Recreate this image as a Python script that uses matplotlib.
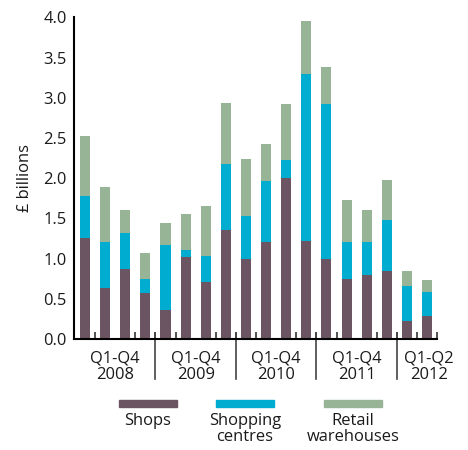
import matplotlib
matplotlib.use('Agg')
import matplotlib.pyplot as plt
import numpy as np

# quarterly investment, £ billions, Q1 2008 - Q2 2012
shops = [1.26, 0.64, 0.87, 0.57, 0.36, 1.02, 0.71, 1.36, 1.00,
         1.20, 2.00, 1.22, 1.00, 0.74, 0.79, 0.85, 0.22, 0.29]
shopping_centres = [0.52, 0.56, 0.45, 0.18, 0.81, 0.09, 0.32, 0.81, 0.53,
                    0.77, 0.23, 2.08, 1.92, 0.46, 0.42, 0.63, 0.44, 0.30]
retail_warehouses = [0.74, 0.69, 0.29, 0.32, 0.27, 0.45, 0.62, 0.77, 0.71,
                     0.45, 0.69, 0.65, 0.46, 0.53, 0.39, 0.50, 0.19, 0.14]

group_labels = ['Q1-Q4\n2008', 'Q1-Q4\n2009', 'Q1-Q4\n2010', 'Q1-Q4\n2011', 'Q1-Q2\n2012']
group_sizes = [4, 4, 4, 4, 2]

series_names = ['Shops', 'Shopping\ncentres', 'Retail\nwarehouses']
colours = ['#6b5562', '#00acd0', '#97b497']

plt.rcParams['font.family'] = ['Open Sans', 'DejaVu Sans']
fs = 11.9

fig = plt.figure(figsize=(4.68, 4.5), dpi=100)
ax = fig.add_axes([0.158, 0.2467, 0.776, 0.7148])

x = np.arange(len(shops))
bottom = np.zeros(len(shops))
for vals, col in zip([shops, shopping_centres, retail_warehouses], colours):
    ax.bar(x, vals, width=0.5, bottom=bottom, color=col, linewidth=0)
    bottom += np.array(vals)

ax.set_xlim(-0.55, 17.5)
ax.set_ylim(0, 4.0)
ax.set_yticks(np.arange(0, 4.01, 0.5))
ax.set_yticklabels(['%.1f' % v for v in np.arange(0, 4.01, 0.5)])
ax.tick_params(axis='y', length=0, pad=5, labelsize=fs, colors='#1a1a1a')
ax.set_ylabel('£ billions', fontsize=fs, labelpad=8, color='#1a1a1a')

# group labels in the middle of each year (the short 2012 one sits a bit right)
edges = np.cumsum([0] + group_sizes)
centres = [(edges[i] + edges[i + 1] - 1) / 2 for i in range(len(group_sizes))]
centres[-1] += 0.6
ax.set_xticks(centres)
ax.set_xticklabels(group_labels, linespacing=1.1, fontsize=fs, color='#1a1a1a')
ax.tick_params(axis='x', which='major', length=0, pad=8)

# small inward ticks between every bar
ax.set_xticks(np.arange(0.5, 17.6, 1.0), minor=True)
ax.tick_params(axis='x', which='minor', direction='in', length=5, width=1.2, color='#333333')

# separators between years, hanging below the axis
for e in edges[1:-1]:
    ax.plot([e - 0.5, e - 0.5], [0.02, -0.125], transform=ax.get_xaxis_transform(),
            color='#444444', lw=1.2, clip_on=False)

for side in ['top', 'right']:
    ax.spines[side].set_visible(False)
ax.spines['left'].set_linewidth(1.5)
ax.spines['bottom'].set_linewidth(1.5)

# legend drawn as swatches with labels beneath
sw_x = [119, 216, 324]
for sx, col, name in zip(sw_x, colours, series_names):
    fig.patches.append(plt.Rectangle((sx / 468, 43 / 450), 58 / 468, 7 / 450,
                                     transform=fig.transFigure, color=col))
    fig.text((sx + 29) / 468, 37 / 450, name, ha='center', va='top',
             fontsize=fs, linespacing=1.0, color='#1a1a1a')

fig.savefig('out.png', dpi=100)
